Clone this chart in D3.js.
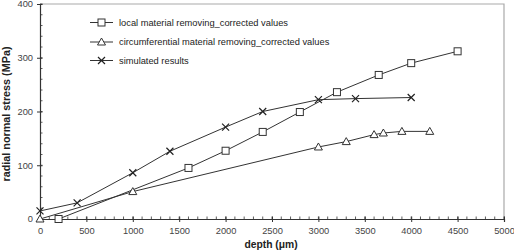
<!DOCTYPE html>
<html>
<head>
<meta charset="utf-8">
<script src="https://cdn.jsdelivr.net/npm/d3@7"></script>
<style>
  body { margin: 0; background: #fff; }
  svg { font-family: Arial, "Liberation Sans", sans-serif; }
</style>
</head>
<body>
<svg id="chart" width="514" height="252"></svg>
<script>
// series (depth in um, stress in MPa)
var localDepth = [200, 1600, 2000, 2400, 2800, 3200, 3650, 4000, 4500];
var localStress = [0, 95, 127, 162, 199, 236, 268, 290, 312];

var circDepth = [0, 1000, 3000, 3300, 3600, 3700, 3900, 4200];
var circStress = [0, 51, 134, 144, 157, 160, 163, 163];

var simDepth = [0, 400, 1000, 1400, 2000, 2400, 3000, 3400, 4000];
var simStress = [15, 30, 86, 126, 171, 200, 222, 224, 226];

var seriesNames = [
    "local material removing_corrected values",
    "circumferential material removing_corrected values",
    "simulated results"
];
var seriesMarks = ["square", "triangle", "cross"];

var xTicks = [0, 500, 1000, 1500, 2000, 2500, 3000, 3500, 4000, 4500, 5000];
var yTicks = [0, 100, 200, 300, 400];

var INK = "#333";

var svg = d3.select("#chart");

var x = d3.scaleLinear().domain([0, 5000]).range([40, 504]);
var y = d3.scaleLinear().domain([0, 400]).range([219, 4]);

// light frame top / right
svg.append("path")
    .attr("d", "M" + x(0) + "," + y(400) + "H" + x(5000) + "V" + y(0))
    .attr("fill", "none")
    .attr("stroke", "#aaa")
    .attr("stroke-width", 1.2);

// minor ticks (inside)
var gMinor = svg.append("g").attr("stroke", INK).attr("stroke-width", 0.8);
d3.range(0, 5001, 100).forEach(function (v) {
    gMinor.append("line")
        .attr("x1", x(v)).attr("x2", x(v))
        .attr("y1", y(0)).attr("y2", y(0) - 2.5);
});
d3.range(0, 401, 20).forEach(function (v) {
    gMinor.append("line")
        .attr("x1", x(0)).attr("x2", x(0) + 2.5)
        .attr("y1", y(v)).attr("y2", y(v));
});

// axes
var xAxis = svg.append("g")
    .attr("transform", "translate(0," + y(0) + ")")
    .call(d3.axisBottom(x).tickValues(xTicks).tickSize(3).tickPadding(5).tickFormat(d3.format("d")));
var yAxis = svg.append("g")
    .attr("transform", "translate(" + x(0) + ",0)")
    .call(d3.axisLeft(y).tickValues(yTicks).tickSize(3).tickPadding(4).tickFormat(d3.format("d")));

[xAxis, yAxis].forEach(function (ax) {
    ax.select(".domain").attr("stroke", INK).attr("stroke-width", 1.2);
    ax.selectAll(".tick line").attr("stroke", INK).attr("stroke-width", 1);
    ax.selectAll(".tick text").attr("fill", "#444").attr("font-size", 9.3).attr("font-family", "Arial, 'Liberation Sans', sans-serif");
});
// major ticks cross the axis
xAxis.selectAll(".tick line").attr("y1", -2.5);
yAxis.selectAll(".tick line").attr("x1", 2.5);

// axis titles
svg.append("text")
    .attr("x", 271).attr("y", 248)
    .attr("text-anchor", "middle")
    .attr("font-size", 10.3).attr("font-weight", "bold").attr("fill", "#222")
    .text("depth (\u03bcm)");

svg.append("text")
    .attr("transform", "translate(10," + 114 + ") rotate(-90)")
    .attr("text-anchor", "middle")
    .attr("font-size", 10.8).attr("font-weight", "bold").attr("fill", "#222")
    .text("radial normal stress (MPa)");

// marker drawing
function drawMark(g, kind, cx, cy) {
    if (kind === "square") {
        g.append("rect")
            .attr("x", cx - 3.5).attr("y", cy - 3.5)
            .attr("width", 7).attr("height", 7)
            .attr("fill", "#fff").attr("stroke", INK).attr("stroke-width", 1);
    } else if (kind === "triangle") {
        g.append("path")
            .attr("d", "M" + cx + "," + (cy - 4) + "L" + (cx + 4) + "," + (cy + 3) + "L" + (cx - 4) + "," + (cy + 3) + "Z")
            .attr("fill", "#fff").attr("stroke", INK).attr("stroke-width", 1);
    } else {
        g.append("path")
            .attr("d", "M" + (cx - 3.5) + "," + (cy - 3.5) + "L" + (cx + 3.5) + "," + (cy + 3.5) +
                "M" + (cx + 3.5) + "," + (cy - 3.5) + "L" + (cx - 3.5) + "," + (cy + 3.5))
            .attr("fill", "none").attr("stroke", "#222").attr("stroke-width", 1.2);
    }
}

var allSeries = [
    { xs: localDepth, ys: localStress, mark: seriesMarks[0] },
    { xs: circDepth, ys: circStress, mark: seriesMarks[1] },
    { xs: simDepth, ys: simStress, mark: seriesMarks[2] }
];

var line = d3.line()
    .x(function (d) { return x(d[0]); })
    .y(function (d) { return y(d[1]); });

allSeries.forEach(function (s) {
    var pts = s.xs.map(function (v, i) { return [v, s.ys[i]]; });
    svg.append("path")
        .datum(pts)
        .attr("d", line)
        .attr("fill", "none")
        .attr("stroke", INK)
        .attr("stroke-width", 1);
});
allSeries.forEach(function (s) {
    var g = svg.append("g");
    s.xs.forEach(function (v, i) {
        drawMark(g, s.mark, x(v), y(s.ys[i]));
    });
});

// legend
var legendRows = [22.5, 42, 60.5];
seriesNames.forEach(function (name, i) {
    var g = svg.append("g").attr("transform", "translate(0," + legendRows[i] + ")");
    g.append("line")
        .attr("x1", 90).attr("x2", 113).attr("y1", 0).attr("y2", 0)
        .attr("stroke", INK).attr("stroke-width", 1);
    drawMark(g, seriesMarks[i], 101.5, 0);
    g.append("text")
        .attr("x", 119).attr("y", 3.3)
        .attr("font-size", 9.3).attr("fill", "#222")
        .text(name);
});
</script>
</body>
</html>
